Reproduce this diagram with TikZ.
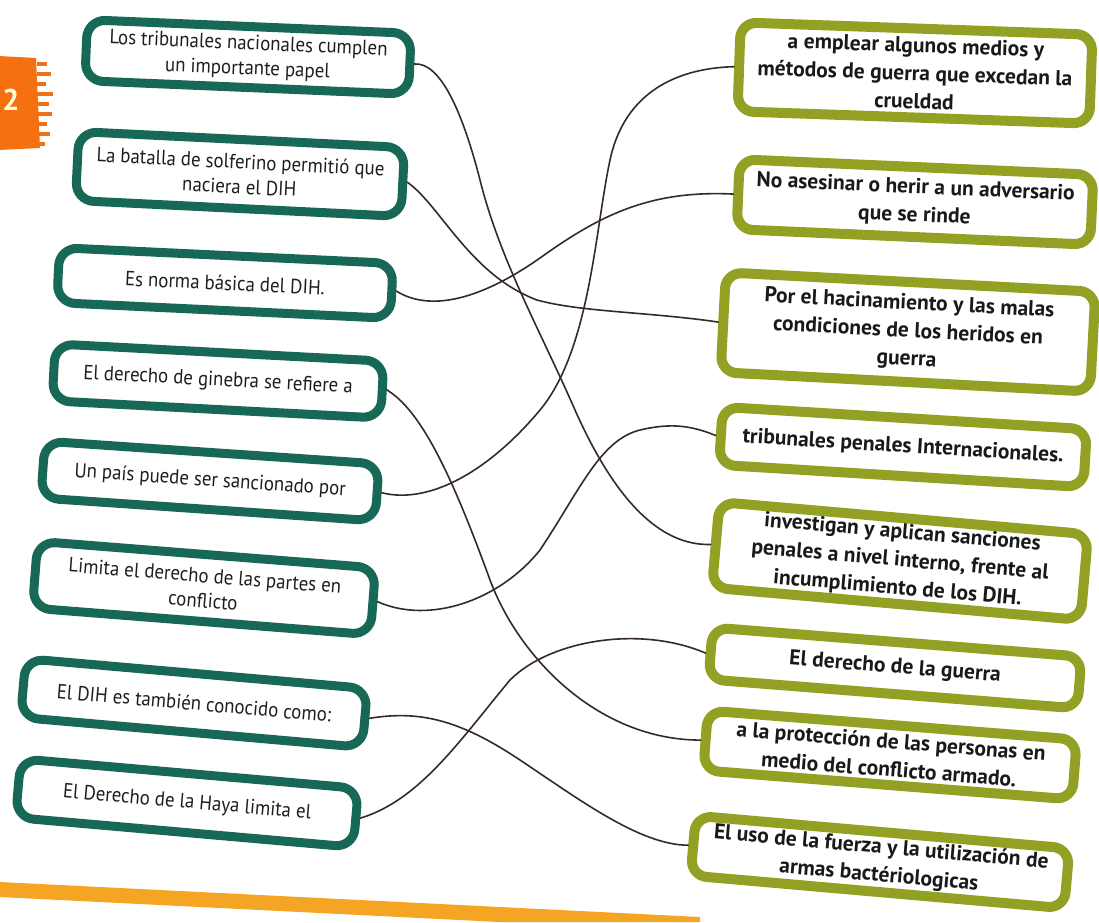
\documentclass[tikz,border=0pt]{standalone}
\usepackage{fontspec}
\setmainfont{PT Sans}
\newfontfamily\lfont[FakeStretch=0.92]{PT Sans}
\newfontfamily\rfont[FakeStretch=1.0]{PT Sans}
\definecolor{tealb}{RGB}{24,104,88}
\definecolor{oliveb}{RGB}{146,160,36}
\definecolor{pencol}{RGB}{55,42,38}
\definecolor{orng}{RGB}{245,112,16}
\definecolor{stripc}{RGB}{244,165,35}
\tikzset{
  lbox/.style={draw=tealb, line width=9pt, rounded corners=18pt, fill=white, inner sep=0pt,
    align=center, text=black!88, font=\lfont\fontsize{20.5}{25}\selectfont},
  rbox/.style={draw=oliveb, line width=10pt, rounded corners=16pt, fill=white, inner sep=0pt,
    align=center, text=black!90, font=\rfont\bfseries\fontsize{21.5}{28}\selectfont},
  link/.style={draw=pencol, line width=1.6pt, line cap=round}
}
\begin{document}
\begin{tikzpicture}[x=1pt,y=-1pt]
\fill[white] (0,0) rectangle (1099,922);
\useasboundingbox (0,0) rectangle (1099,922);
% badge
\fill[orng] (-2,56) -- (36,58) -- (40,148) -- (-2,150) -- cycle;
\foreach \yy/\ww in {62/10,72/14,82/9,92/16,102/12,112/15,122/10,132/13,142/8}{
  \fill[orng!85!brown] (37,\yy) rectangle (37+\ww,\yy+4);
}
\node[font=\bfseries\fontsize{30}{30}\selectfont, text=yellow!15] (badge) at (11,100) {2};
% strip
\fill[stripc] (0,882) -- (700,917) -- (700,922) -- (500,922) -- (0,897) -- cycle;
% left boxes
\node[lbox, minimum width=324pt, minimum height=61pt, rotate=-2.4] (L1) at (248,57)
  {Los tribunales nacionales cumplen\\un importante papel};
\node[lbox, minimum width=326pt, minimum height=69pt, rotate=-2.8] (L2) at (240,174)
  {La batalla de solferino permitió que\\naciera el DIH};
\node[lbox, minimum width=334pt, minimum height=55pt, rotate=-2.7] (L3) at (225,283)
  {Es norma básica del DIH.};
\node[lbox, minimum width=329pt, minimum height=57pt, rotate=-3] (L4) at (218,381)
  {El derecho de ginebra se refiere a};
\node[lbox, minimum width=335pt, minimum height=57pt, rotate=-3.9] (L5) at (210,481)
  {Un país puede ser sancionado por};
\node[lbox, minimum width=339pt, minimum height=67pt, rotate=-4.5] (L6) at (204,588)
  {Limita el derecho de las partes en\\conflicto};
\node[lbox, minimum width=343pt, minimum height=59pt, rotate=-5] (L7) at (194,703)
  {El DIH es también conocido como:};
\node[lbox, minimum width=339pt, minimum height=59pt, rotate=-5] (L8) at (187,803)
  {El Derecho de la Haya limita el};
% right boxes
\node[rbox, minimum width=352pt, minimum height=89pt, rotate=-2] (R1) at (915,73)
  {a emplear algunos medios y\\métodos de guerra que excedan la\\crueldad};
\node[rbox, minimum width=354pt, minimum height=70pt, rotate=-2.5] (R2) at (915,202)
  {No asesinar o herir a un adversario\\que se rinde};
\node[rbox, minimum width=370pt, minimum height=100pt, rotate=-3] (R3) at (908,332)
  {Por el hacinamiento y las malas\\condiciones de los heridos en\\guerra};
\node[rbox, minimum width=365pt, minimum height=58pt, rotate=-3.5] (R4) at (903,447)
  {tribunales penales Internacionales.};
\node[rbox, minimum width=370pt, minimum height=86pt, rotate=-5] (R5) at (900,561)
  {investigan y aplican sanciones\\penales a nivel interno, frente al\\incumplimiento de los DIH.};
\node[rbox, minimum width=370pt, minimum height=52pt, rotate=-4.5] (R7) at (895,668)
  {El derecho de la guerra};
\node[rbox, minimum width=370pt, minimum height=60pt, rotate=-4.5] (R8) at (890,755)
  {a la protección de las personas en\\medio del conflicto armado.};
\node[rbox, minimum width=375pt, minimum height=60pt, rotate=-5] (R9) at (880,862)
  {El uso de la fuerza y la utilización de\\armas bactériologicas};
% connectors
\draw[link] (L1.east) .. controls (440,62) and (462,110) .. (480,180)
  .. controls (500,260) and (540,330) .. (575,410)
  .. controls (615,500) and (660,546) .. (R5.west);
\draw[link] (L2.east) .. controls (440,205) and (470,275) .. (537,300)
  .. controls (580,312) and (650,312) .. (R3.west);
\draw[link] (L3.east) .. controls (430,312) and (480,300) .. (540,258)
  .. controls (600,215) and (650,190) .. (R2.west);
\draw[link] (L4.east) .. controls (420,410) and (450,470) .. (490,580)
  .. controls (520,660) and (600,740) .. (R8.west);
\draw[link] (L5.east) .. controls (430,505) and (490,470) .. (540,410)
  .. controls (590,350) and (595,230) .. (610,160)
  .. controls (625,90) and (680,68) .. (R1.west);
\draw[link] (L6.east) .. controls (430,625) and (500,600) .. (540,550)
  .. controls (580,490) and (600,440) .. (640,430)
  .. controls (670,423) and (690,425) .. (R4.west);
\draw[link] (L7.east) .. controls (420,710) and (460,720) .. (520,760)
  .. controls (580,800) and (640,845) .. (R9.west);
\draw[link] (L8.east) .. controls (420,800) and (460,740) .. (510,680)
  .. controls (550,640) and (640,625) .. (R7.west);
\end{tikzpicture}
\end{document}
